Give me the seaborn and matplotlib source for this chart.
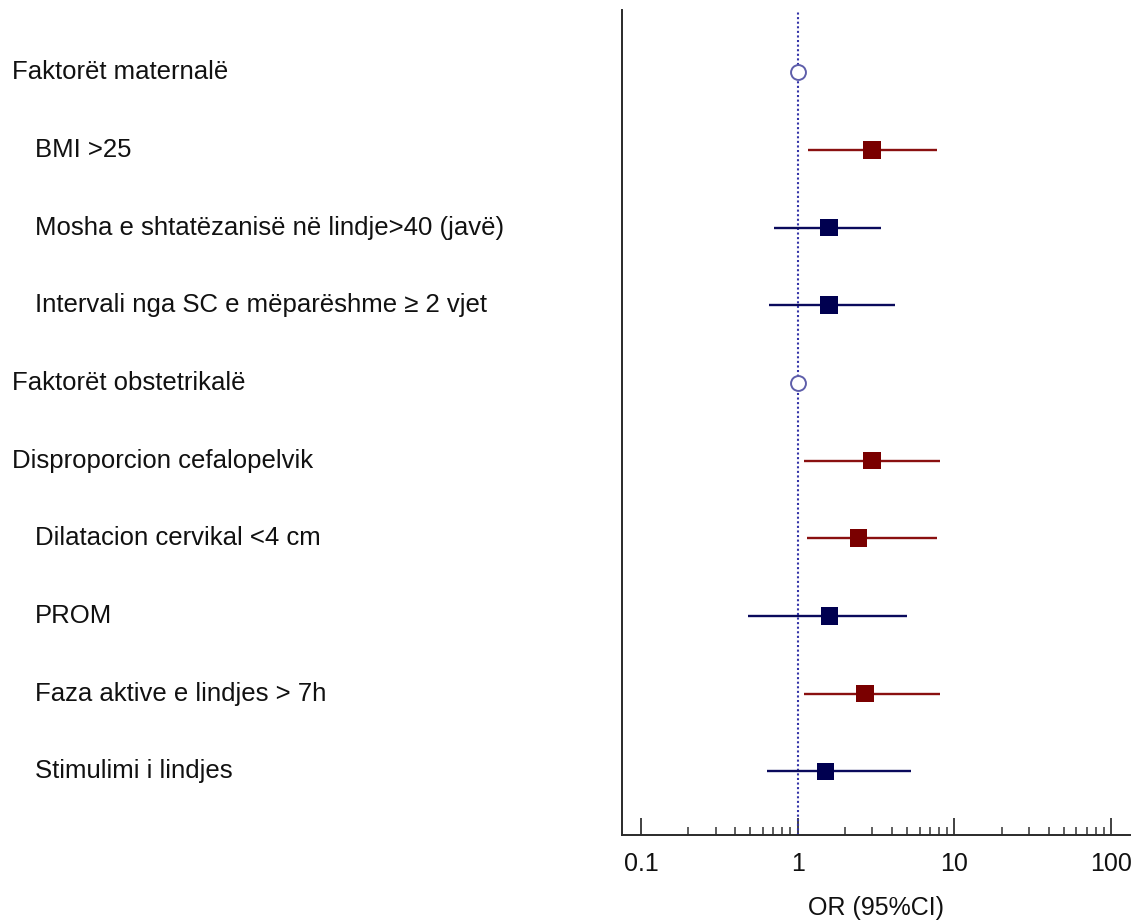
import matplotlib
matplotlib.use("Agg")
import matplotlib.pyplot as plt
import matplotlib.transforms as mtransforms
from matplotlib.ticker import NullFormatter, FixedLocator
import seaborn as sns
import pandas as pd

sns.set_theme(style="white")
plt.rcParams['font.family'] = ['Liberation Sans', 'DejaVu Sans']

# rows, top to bottom
labels = ["Faktorët maternalë", "BMI >25", "Mosha e shtatëzanisë në lindje>40 (javë)",
          "Intervali nga SC e mëparëshme ≥ 2 vjet", "Faktorët obstetrikalë",
          "Disproporcion cefalopelvik", "Dilatacion cervikal <4 cm", "PROM",
          "Faza aktive e lindjes > 7h", "Stimulimi i lindjes"]
indent = [0, 1, 1, 1, 0, 0, 1, 1, 1, 1]
is_header = [True, False, False, False, True, False, False, False, False, False]
odds = [1.0, 2.97, 1.58, 1.58, 1.0, 2.97, 2.45, 1.60, 2.68, 1.51]
ci_low = [None, 1.16, 0.71, 0.66, None, 1.09, 1.14, 0.48, 1.09, 0.64]
ci_high = [None, 7.8, 3.39, 4.16, None, 8.06, 7.8, 4.96, 8.06, 5.26]
tick_vals = [0.1, 1, 10, 100]
tick_text = ["0.1", "1", "10", "100"]

RED = "#7a0000"
NAVY = "#000050"

df = pd.DataFrame({"label": labels, "row": range(len(labels)), "or": odds,
                   "lo": ci_low, "hi": ci_high, "header": is_header})
df["sig"] = [(not h) and lo is not None and lo > 1 for h, lo in zip(is_header, ci_low)]

fig = plt.figure(figsize=(11.35, 9.23), dpi=100)
ax = fig.add_axes([622 / 1135, 1 - 835 / 923, (1130 - 622) / 1135, (835 - 10) / 923])

ax.axvline(1, color="#3434a8", linestyle=(0, (1, 1.2)), linewidth=1.5, zorder=1)

data = df[~df["header"]]
for _, r in data.iterrows():
    col = "#8a1010" if r["sig"] else "#0a0a5c"
    ax.hlines(r["row"], r["lo"], r["hi"], color=col, linewidth=1.7, zorder=2)

sns.scatterplot(data=data, x="or", y="row", hue="sig", palette={True: RED, False: NAVY},
                marker="s", s=160, edgecolor="none", legend=False, ax=ax, zorder=3)
sns.scatterplot(data=df[df["header"]], x="or", y="row", marker="o", s=115,
                facecolor="white", edgecolor="#5e5eaa", linewidth=1.4,
                legend=False, ax=ax, zorder=3)

ax.set_xscale("log")
ax.set_xlim(0.0757, 132)
ax.set_ylim(9.82, -0.80)

minor = [m * d for d in (0.1, 1, 10) for m in range(2, 10)]
ax.xaxis.set_major_locator(FixedLocator(tick_vals))
ax.xaxis.set_minor_locator(FixedLocator(minor))
ax.xaxis.set_minor_formatter(NullFormatter())
ax.set_xticklabels(tick_text)
ax.tick_params(axis="x", which="major", direction="in", length=12, width=1.3,
               color="#333333", labelsize=18, labelcolor="#111111", pad=12, bottom=True)
ax.tick_params(axis="x", which="minor", direction="in", length=6, width=1.1,
               color="#333333", bottom=True)
ax.set_yticks([])

for side in ["top", "right"]:
    ax.spines[side].set_visible(False)
for side in ["left", "bottom"]:
    ax.spines[side].set_color("#2a2a2a")
    ax.spines[side].set_linewidth(1.4)

ax.set_xlabel("OR (95%CI)", fontsize=18, color="#111111", labelpad=15)
ax.set_ylabel("")

trans = mtransforms.blended_transform_factory(fig.transFigure, ax.transData)
for i, (lab, ind) in enumerate(zip(labels, indent)):
    x = (12 + 23 * ind) / 1135
    fig.text(x, i, lab, transform=trans, fontsize=18.5, va="center", ha="left",
             color="#111111")

fig.savefig("out.png", dpi=100)
